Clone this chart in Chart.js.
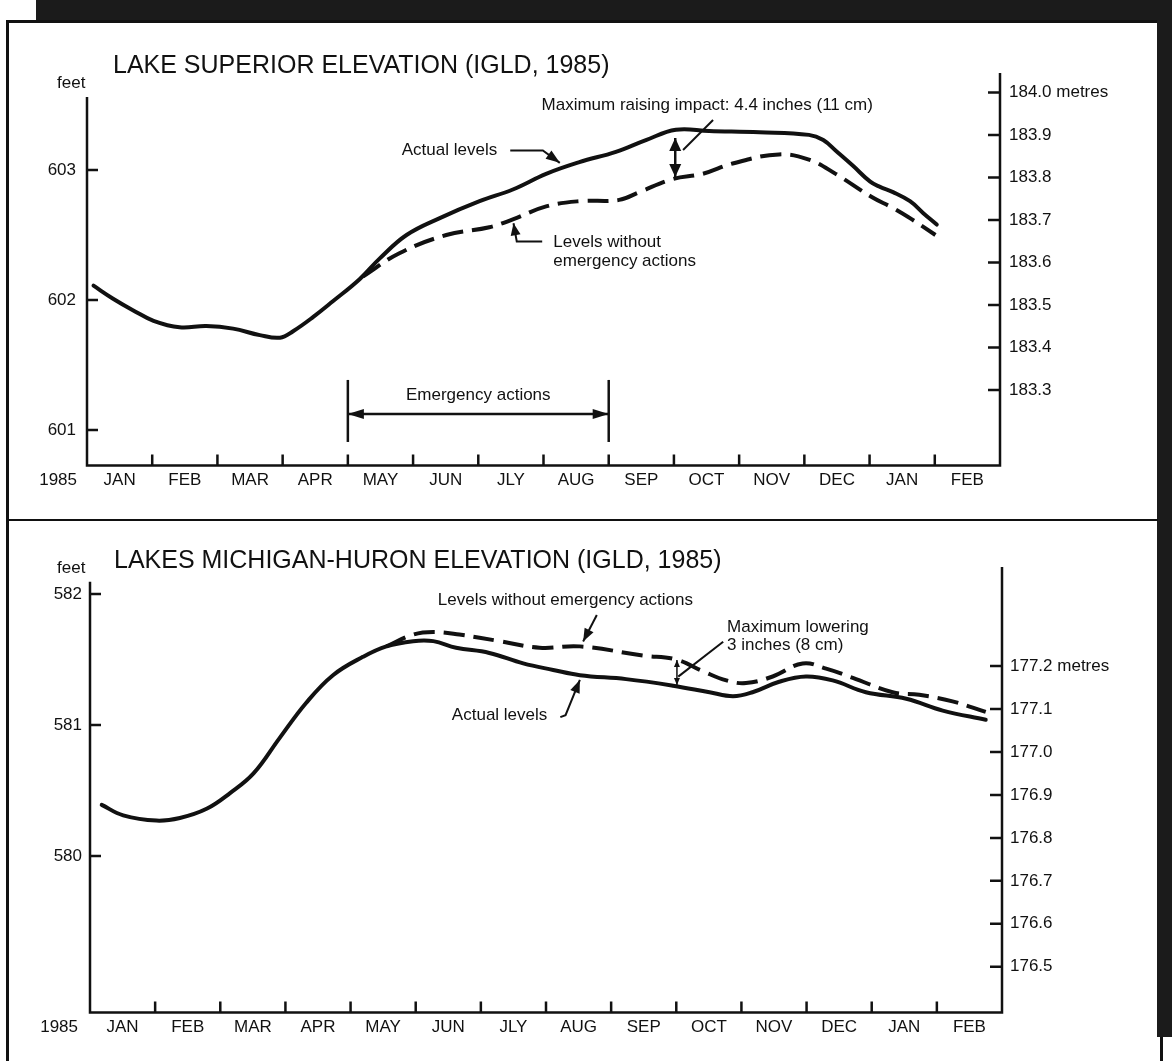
<!DOCTYPE html>
<html>
<head>
<meta charset="utf-8">
<title>Lake Superior and Lakes Michigan-Huron elevation, 1985</title>
<script src="https://cdn.jsdelivr.net/npm/chart.js@4.4.1/dist/chart.umd.min.js"></script>
<style>
  html, body { margin: 0; padding: 0; background: #fff; }
  body { width: 1172px; height: 1061px; position: relative; overflow: hidden; }
  .scan { position: absolute; background: #1b1b1b; }
  .rule { position: absolute; background: #111; }
  canvas { position: absolute; left: 0; }
</style>
</head>
<body>
<!-- bordes del escaneo -->
<div class="scan" style="left:36px;top:0;width:1136px;height:21px"></div>
<div class="rule" style="left:6px;top:20px;width:1166px;height:3px"></div>
<div class="rule" style="left:6px;top:20px;width:3px;height:1041px"></div>
<div class="scan" style="left:1157px;top:0;width:15px;height:1037px"></div>
<div class="rule" style="left:1160px;top:1037px;width:3px;height:24px"></div>
<div class="rule" style="left:8px;top:519px;width:1150px;height:2px"></div>

<canvas id="superiorChart" width="1172" height="520" style="top:0"></canvas>
<canvas id="michHuronChart" width="1172" height="541" style="top:520px"></canvas>

<script>
const ink = '#111';
const textFont = '"Liberation Sans", Arial, Helvetica, sans-serif';

// x = months since 1 Jan 1985; labels sit between the month ticks
const monthLabels = ['JAN', 'FEB', 'MAR', 'APR', 'MAY', 'JUN', 'JLY', 'AUG', 'SEP', 'OCT', 'NOV', 'DEC', 'JAN', 'FEB'];

// Lake Superior, feet
const supActualMonth = [0.10, 0.40, 0.71, 1.02, 1.42, 1.83, 2.24, 2.65, 2.96, 3.16, 3.47, 3.77, 4.18, 4.49, 4.90, 5.41, 6.02, 6.53, 7.04, 7.55, 8.11, 8.57, 9.03, 9.54, 10.31, 11.07, 11.29, 11.50, 11.75, 12.01, 12.16, 12.36, 12.62, 12.82, 13.03];
const supActualFeet = [602.11, 602.01, 601.92, 601.84, 601.79, 601.80, 601.78, 601.73, 601.71, 601.76, 601.87, 601.99, 602.16, 602.32, 602.50, 602.63, 602.76, 602.85, 602.97, 603.06, 603.14, 603.23, 603.31, 603.30, 603.29, 603.27, 603.23, 603.14, 603.03, 602.91, 602.87, 602.83, 602.76, 602.67, 602.58];
const supNoActionMonth = [4.23, 4.79, 5.51, 6.17, 6.53, 7.04, 7.55, 8.16, 8.47, 8.98, 9.44, 9.90, 10.61, 11.07, 11.48, 12.04, 12.35, 12.65, 13.01];
const supNoActionFeet = [602.18, 602.36, 602.50, 602.56, 602.62, 602.72, 602.76, 602.77, 602.83, 602.93, 602.97, 603.05, 603.12, 603.08, 602.97, 602.79, 602.71, 602.62, 602.50];
const supFeetTicks = [601, 602, 603];
const supMetreTicks = [183.3, 183.4, 183.5, 183.6, 183.7, 183.8, 183.9, 184.0];

// Lakes Michigan-Huron, feet
const mhActualMonth = [0.18, 0.51, 1.02, 1.38, 1.79, 2.15, 2.51, 2.91, 3.32, 3.73, 4.19, 4.55, 4.96, 5.27, 5.62, 6.13, 6.65, 7.11, 7.52, 8.23, 8.95, 9.51, 9.87, 10.17, 10.58, 10.99, 11.40, 11.91, 12.53, 13.09, 13.75];
const mhActualFeet = [580.39, 580.31, 580.27, 580.29, 580.36, 580.48, 580.63, 580.90, 581.17, 581.38, 581.52, 581.60, 581.64, 581.64, 581.59, 581.55, 581.47, 581.42, 581.38, 581.35, 581.30, 581.25, 581.22, 581.25, 581.33, 581.37, 581.34, 581.25, 581.20, 581.11, 581.04];
const mhNoActionMonth = [4.55, 4.96, 5.27, 5.67, 6.29, 6.90, 7.52, 8.49, 9.00, 9.41, 9.77, 10.07, 10.48, 10.94, 11.30, 11.71, 12.32, 12.73, 13.24, 13.75];
const mhNoActionFeet = [581.60, 581.69, 581.71, 581.69, 581.64, 581.59, 581.60, 581.53, 581.50, 581.41, 581.34, 581.32, 581.37, 581.47, 581.43, 581.36, 581.25, 581.23, 581.18, 581.10];
const mhFeetTicks = [580, 581, 582];
const mhMetreTicks = [176.5, 176.6, 176.7, 176.8, 176.9, 177.0, 177.1, 177.2];

function toPoints(xs, ys) {
    return xs.map((x, i) => ({ x: x, y: ys[i] }));
}

// Punta de flecha rellena
function arrowHead(ctx, from, to, len, half) {
    const a = Math.atan2(to[1] - from[1], to[0] - from[0]);
    const bx = to[0] - len * Math.cos(a), by = to[1] - len * Math.sin(a);
    ctx.beginPath();
    ctx.moveTo(to[0], to[1]);
    ctx.lineTo(bx + half * Math.sin(a), by - half * Math.cos(a));
    ctx.lineTo(bx - half * Math.sin(a), by + half * Math.cos(a));
    ctx.closePath();
    ctx.fill();
}

// Ejes, marcas hacia dentro, títulos y anotaciones
function makeDecor(d) {
    return {
        id: 'scanDecor',
        afterDraw(chart) {
            const ctx = chart.ctx;
            const a = chart.chartArea;
            const sx = chart.scales.x, sy = chart.scales.y, sy2 = chart.scales.y2;
            const px = m => sx.getPixelForValue(m);
            const py = f => sy.getPixelForValue(f);
            ctx.save();
            ctx.strokeStyle = ink;
            ctx.fillStyle = ink;
            ctx.lineWidth = 2.5;

            ctx.beginPath();
            ctx.moveTo(a.left, d.leftAxisTop);
            ctx.lineTo(a.left, a.bottom);
            ctx.lineTo(a.right, a.bottom);
            ctx.lineTo(a.right, a.top);
            ctx.stroke();

            ctx.beginPath();
            sy.ticks.forEach(t => { const y = py(t.value); ctx.moveTo(a.left, y); ctx.lineTo(a.left + 11, y); });
            sy2.ticks.forEach(t => { const y = sy2.getPixelForValue(t.value); ctx.moveTo(a.right, y); ctx.lineTo(a.right - 12, y); });
            for (let m = 1; m < monthLabels.length; m++) {
                ctx.moveTo(px(m), a.bottom);
                ctx.lineTo(px(m), a.bottom - 11);
            }
            ctx.stroke();

            ctx.textAlign = 'left';
            ctx.textBaseline = 'alphabetic';
            ctx.font = '25px ' + textFont;
            ctx.fillText(d.title, d.titleX, d.titleY);
            ctx.font = '17px ' + textFont;
            ctx.fillText('feet', d.feetX, d.feetY);
            ctx.textAlign = 'right';
            ctx.textBaseline = 'middle';
            ctx.fillText('1985', d.yearX, d.yearY);

            d.notes.forEach(n => {
                ctx.textAlign = n.align;
                n.lines.forEach((line, i) => ctx.fillText(line, px(n.at[0]), py(n.at[1]) + i * d.lineGap));
            });

            d.arrows.forEach(ar => {
                const pts = ar.pts.map(p => [px(p[0]), py(p[1])]);
                ctx.lineWidth = ar.width || 2;
                ctx.beginPath();
                pts.forEach((p, i) => i ? ctx.lineTo(p[0], p[1]) : ctx.moveTo(p[0], p[1]));
                ctx.stroke();
                const n = pts.length;
                if (ar.head === 'end' || ar.head === 'both') arrowHead(ctx, pts[n - 2], pts[n - 1], ar.len, ar.half);
                if (ar.head === 'both') arrowHead(ctx, pts[1], pts[0], ar.len, ar.half);
            });
            ctx.restore();
        }
    };
}

function makeChart(canvasId, s) {
    const lineStyle = { borderColor: ink, borderWidth: 4, pointRadius: 0, tension: 0.4, fill: false, borderJoinStyle: 'round' };
    return new Chart(document.getElementById(canvasId), {
        type: 'line',
        data: {
            datasets: [
                Object.assign({ label: 'Actual levels', data: toPoints(s.actualMonth, s.actualFeet), borderCapStyle: 'round' }, lineStyle),
                Object.assign({ label: 'Levels without emergency actions', data: toPoints(s.noActionMonth, s.noActionFeet), borderDash: [21, 9] }, lineStyle)
            ]
        },
        options: {
            responsive: false,
            animation: false,
            layout: { padding: s.padding },
            plugins: { legend: { display: false }, tooltip: { enabled: false } },
            scales: {
                x: {
                    type: 'linear', min: 0, max: monthLabels.length,
                    grid: { display: false, drawTicks: false }, border: { display: false },
                    afterBuildTicks: sc => { sc.ticks = monthLabels.map((_, i) => ({ value: i + 0.5 })); },
                    afterFit: sc => { sc.height = 40; },
                    ticks: {
                        autoSkip: false, maxRotation: 0, padding: 5, color: ink,
                        font: { family: textFont, size: 17 },
                        callback: (v, i) => monthLabels[i]
                    }
                },
                y: {
                    type: 'linear', position: 'left', min: s.feetMin, max: s.feetMax,
                    grid: { display: false, drawTicks: false }, border: { display: false },
                    afterBuildTicks: sc => { sc.ticks = s.feetTicks.map(v => ({ value: v })); },
                    afterFit: sc => { sc.width = 80; },
                    ticks: { padding: s.feetPad, color: ink, font: { family: textFont, size: 17 }, callback: v => String(v) }
                },
                y2: {
                    type: 'linear', position: 'right', min: s.metreMin, max: s.metreMax,
                    grid: { display: false, drawTicks: false }, border: { display: false },
                    afterBuildTicks: sc => { sc.ticks = s.metreTicks.map(v => ({ value: v })); },
                    afterFit: sc => { sc.width = 120; },
                    ticks: {
                        padding: s.metrePad, color: ink, autoSkip: false,
                        font: { family: textFont, size: 17 },
                        callback: v => v.toFixed(1) + (v === s.metreTicks[s.metreTicks.length - 1] ? ' metres' : '')
                    }
                }
            }
        },
        plugins: [makeDecor(s.decor)]
    });
}

makeChart('superiorChart', {
    actualMonth: supActualMonth, actualFeet: supActualFeet,
    noActionMonth: supNoActionMonth, noActionFeet: supNoActionFeet,
    feetTicks: supFeetTicks, metreTicks: supMetreTicks,
    feetMin: 600.727, feetMax: 603.746, metreMin: 183.122, metreMax: 184.046,
    feetPad: 11, metrePad: 9,
    padding: { left: 7, right: 52, top: 73, bottom: 14.5 },
    decor: {
        title: 'LAKE SUPERIOR ELEVATION (IGLD, 1985)', titleX: 113, titleY: 73,
        feetX: 57, feetY: 88, yearX: 77, yearY: 480.5, leftAxisTop: 97, lineGap: 19,
        notes: [
            { lines: ['Actual levels'], at: [6.29, 603.154], align: 'right' },
            { lines: ['Levels without', 'emergency actions'], at: [7.15, 602.44], align: 'left' },
            { lines: ['Maximum raising impact: 4.4 inches (11 cm)'], at: [9.51, 603.50], align: 'center' },
            { lines: ['Emergency actions'], at: [6.0, 601.27], align: 'center' }
        ],
        arrows: [
            { pts: [[6.49, 603.15], [6.99, 603.15], [7.25, 603.055]], head: 'end', len: 14, half: 5 },
            { pts: [[6.98, 602.45], [6.59, 602.45], [6.54, 602.59]], head: 'end', len: 12, half: 5 },
            { pts: [[9.02, 603.246], [9.02, 602.946]], head: 'both', len: 13, half: 6, width: 2.5 },
            { pts: [[9.14, 603.154], [9.60, 603.385]], head: 'none', width: 2 },
            { pts: [[4, 601.123], [8, 601.123]], head: 'both', len: 16, half: 5, width: 2.5 },
            { pts: [[4, 601.385], [4, 600.908]], head: 'none', width: 2.5 },
            { pts: [[8, 601.385], [8, 600.908]], head: 'none', width: 2.5 }
        ]
    }
});

makeChart('michHuronChart', {
    actualMonth: mhActualMonth, actualFeet: mhActualFeet,
    noActionMonth: mhNoActionMonth, noActionFeet: mhNoActionFeet,
    feetTicks: mhFeetTicks, metreTicks: mhMetreTicks,
    feetMin: 578.805, feetMax: 582.206, metreMin: 176.3935, metreMax: 177.4308,
    feetPad: 8, metrePad: 8,
    padding: { left: 10, right: 50, top: 47, bottom: 8.5 },
    decor: {
        title: 'LAKES MICHIGAN-HURON ELEVATION (IGLD, 1985)', titleX: 114, titleY: 48,
        feetX: 57, feetY: 53, yearX: 78, yearY: 507.5, leftAxisTop: 61.7, lineGap: 18,
        notes: [
            { lines: ['Levels without emergency actions'], at: [5.34, 581.954], align: 'left' },
            { lines: ['Actual levels'], at: [7.02, 581.076], align: 'right' },
            { lines: ['Maximum lowering', '3 inches (8 cm)'], at: [9.78, 581.748], align: 'left' }
        ],
        arrows: [
            { pts: [[7.78, 581.84], [7.57, 581.637]], head: 'end', len: 13, half: 5 },
            { pts: [[7.22, 581.06], [7.30, 581.075], [7.52, 581.344]], head: 'end', len: 13, half: 5 },
            { pts: [[9.72, 581.636], [9.03, 581.369]], head: 'none', width: 2 },
            { pts: [[9.01, 581.496], [9.01, 581.305]], head: 'both', len: 7, half: 3, width: 1.5 }
        ]
    }
});
</script>
</body>
</html>
